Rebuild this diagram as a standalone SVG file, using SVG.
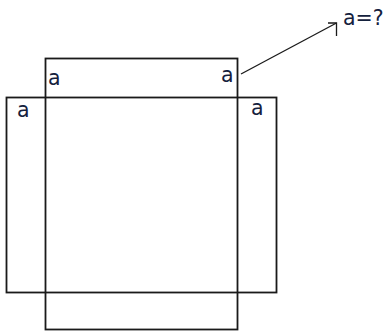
<svg xmlns="http://www.w3.org/2000/svg" width="387" height="333" viewBox="0 0 387 333">
<style>
.box{fill:none;stroke:#1a1a1a;stroke-width:1.8}
.ln{fill:none;stroke:#1a1a1a;stroke-width:1.3}
.lb{font-family:"DejaVu Sans",sans-serif;font-size:20.5px;fill:#14213d}
</style>
<rect width="387" height="333" fill="#fff"/>
<g id="tall-square"><rect class="box" x="45.5" y="58.5" width="192" height="271"/></g>
<g id="wide-square"><rect class="box" x="6.5" y="97.5" width="270" height="195"/></g>
<g id="labels">
<text class="lb" x="48" y="85">a</text>
<text class="lb" x="17" y="116.5">a</text>
<text class="lb" x="221" y="82">a</text>
<text class="lb" x="251" y="115">a</text>
<text class="lb" x="343" y="25">a=?</text>
</g>
<g id="connectors">
<line class="ln" x1="241" y1="74" x2="336.5" y2="23"/>
<polyline class="ln" points="328,23 336.5,23 336.5,36"/>
</g>
</svg>
